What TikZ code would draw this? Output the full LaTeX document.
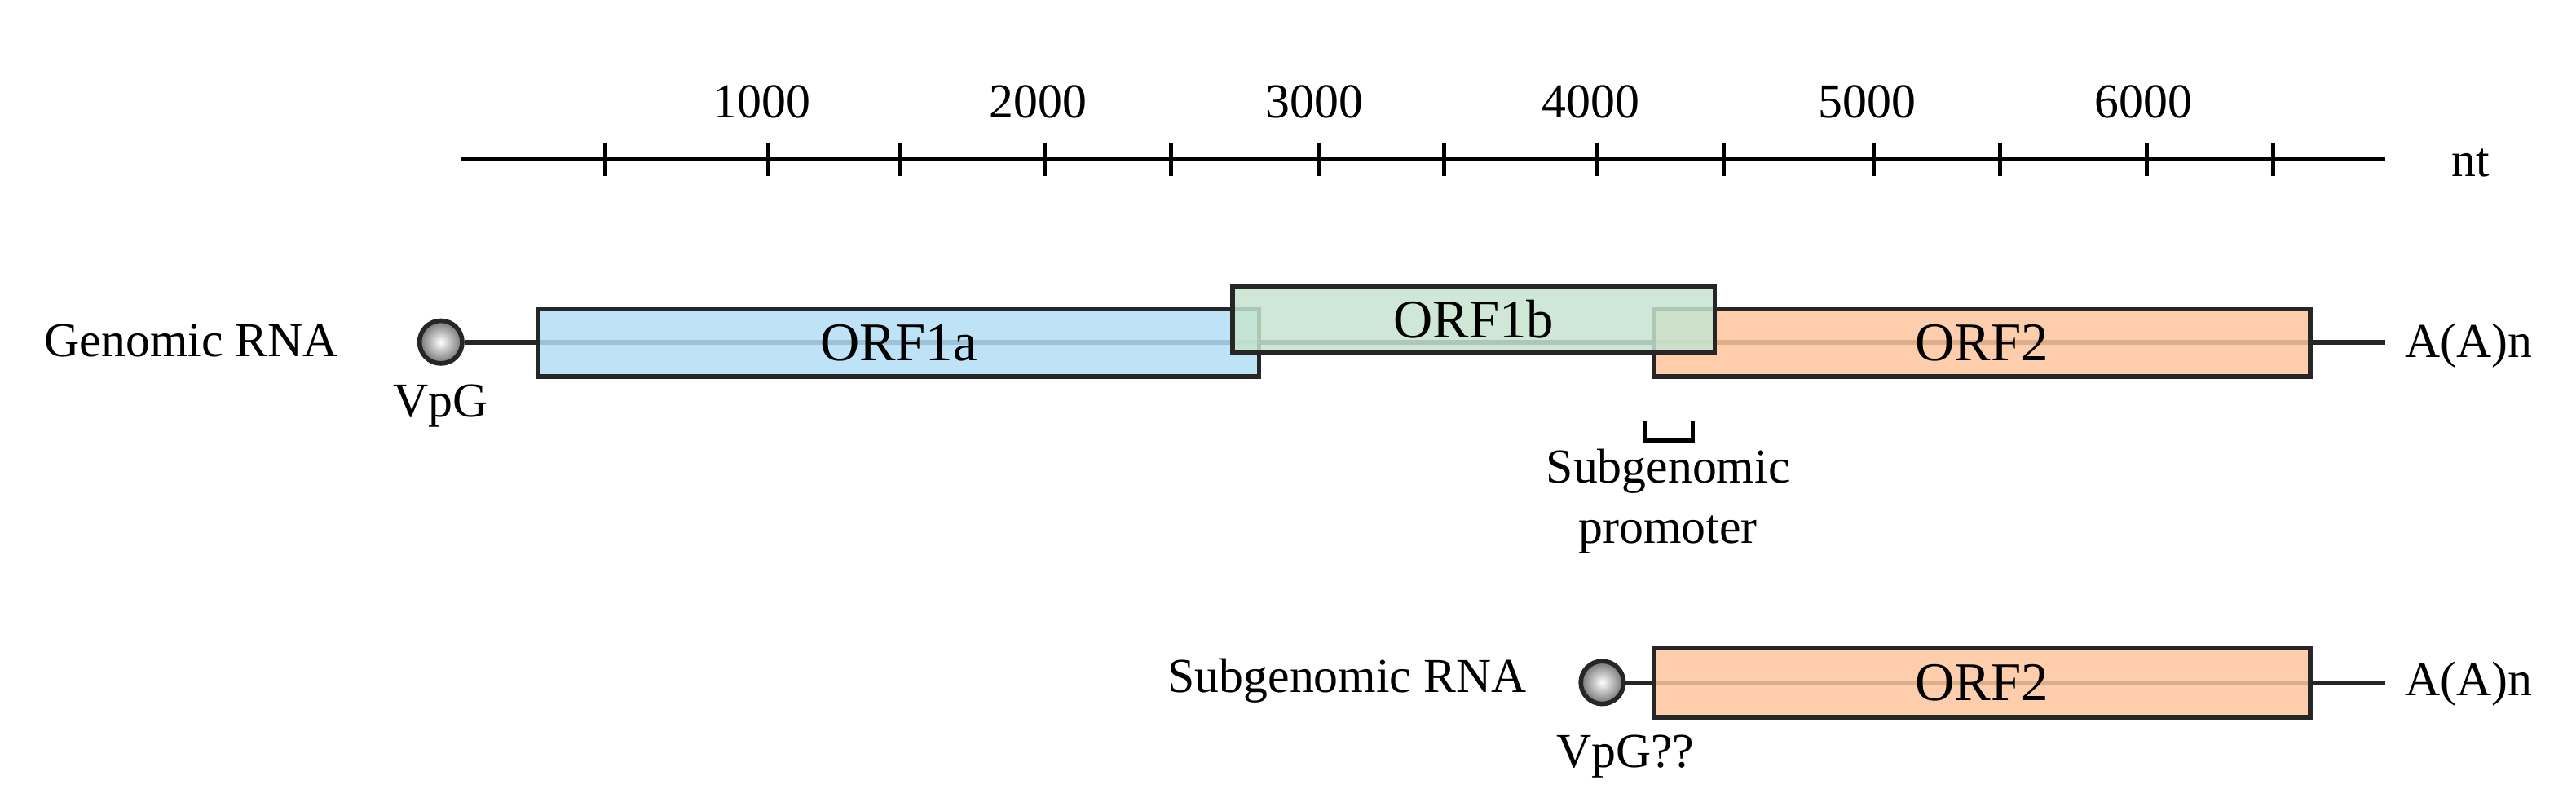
\documentclass[tikz,border=0pt]{standalone}
\usepackage{fontspec}
\setmainfont{Liberation Serif}
\usetikzlibrary{positioning}
\definecolor{orfblue}{HTML}{B3DEF5}
\definecolor{orfgreen}{HTML}{C5E3D0}
\definecolor{orforange}{HTML}{FEC69E}
\tikzset{
  orf/.style={draw=black!85, line width=1.6pt, fill opacity=0.85, text opacity=1,
    inner sep=0pt, font=\fontsize{19}{22}\selectfont},
  lbl/.style={font=\fontsize{17}{21}\selectfont, inner sep=1pt},
  vpg/.style={circle, draw=black!85, line width=1.6pt, minimum size={26*0.2018mm},
    inner sep=0pt, inner color=white, outer color=black!55},
  rna/.style={line width=1.6pt, black!85}
}
\begin{document}
\begin{tikzpicture}[x=0.2018mm, y=-0.2018mm]
  \useasboundingbox (0,0) rectangle (1566,487.6);
  % scale axis
  \draw[line width=1.5pt] (280,97) coordinate (ax0) -- (1450,97) coordinate (ax1);
  \node[lbl] (nt) at (1502,99) {nt};
  \foreach \x in {368,467,547,635,712,802,878,971,1048,1139,1216,1305,1382}
    \draw[line width=1.5pt] (\x,87) -- (\x,107);
  \foreach \x/\n in {463/1000,631/2000,799/3000,967/4000,1135/5000,1303/6000}
    \node[lbl] at (\x,62) {\n};
  % genomic RNA
  \node[lbl, anchor=west] (grna) at (25,207) {Genomic RNA};
  \node[vpg] (vpg1) at (268,208) {};
  \node[lbl] (vpg1l) at (268,247) {VpG};
  \coordinate (end1) at (1450,208);
  \draw[rna] (vpg1) -- (end1);
  \node[orf, fill=orfblue, anchor=west, minimum width={438*0.2018mm}, minimum height={41*0.2018mm}]
    (orf1a) at (326,208.5) {ORF1a};
  \node[orf, fill=orforange, anchor=west, minimum width={399*0.2018mm}, minimum height={41*0.2018mm}]
    (orf2) at (1004,208.5) {ORF2};
  \node[orf, fill=orfgreen, anchor=west, minimum width={293*0.2018mm}, minimum height={40*0.2018mm}]
    (orf1b) at (748,194) {ORF1b};
  \node[lbl, anchor=west] (poly1) at (1460,210) {A(A)n};
  % subgenomic promoter
  \draw[line width=1.5pt] (1000,256) coordinate (sp0) -- (1000,268) -- (1029,268) -- (1029,256) coordinate (sp1);
  \node[lbl, align=center] (spl) at (1014,305) {Subgenomic\\promoter};
  % subgenomic RNA
  \node[lbl, anchor=east] (sgrna) at (930,414) {Subgenomic RNA};
  \node[vpg] (vpg2) at (974,415) {};
  \node[lbl] (vpg2l) at (988,460) {VpG??};
  \coordinate (end2) at (1450,415);
  \draw[rna] (vpg2) -- (end2);
  \node[orf, fill=orforange, anchor=west, minimum width={399*0.2018mm}, minimum height={42*0.2018mm}]
    (sorf2) at (1004,415) {ORF2};
  \node[lbl, anchor=west] (poly2) at (1460,416) {A(A)n};
\end{tikzpicture}
\end{document}
